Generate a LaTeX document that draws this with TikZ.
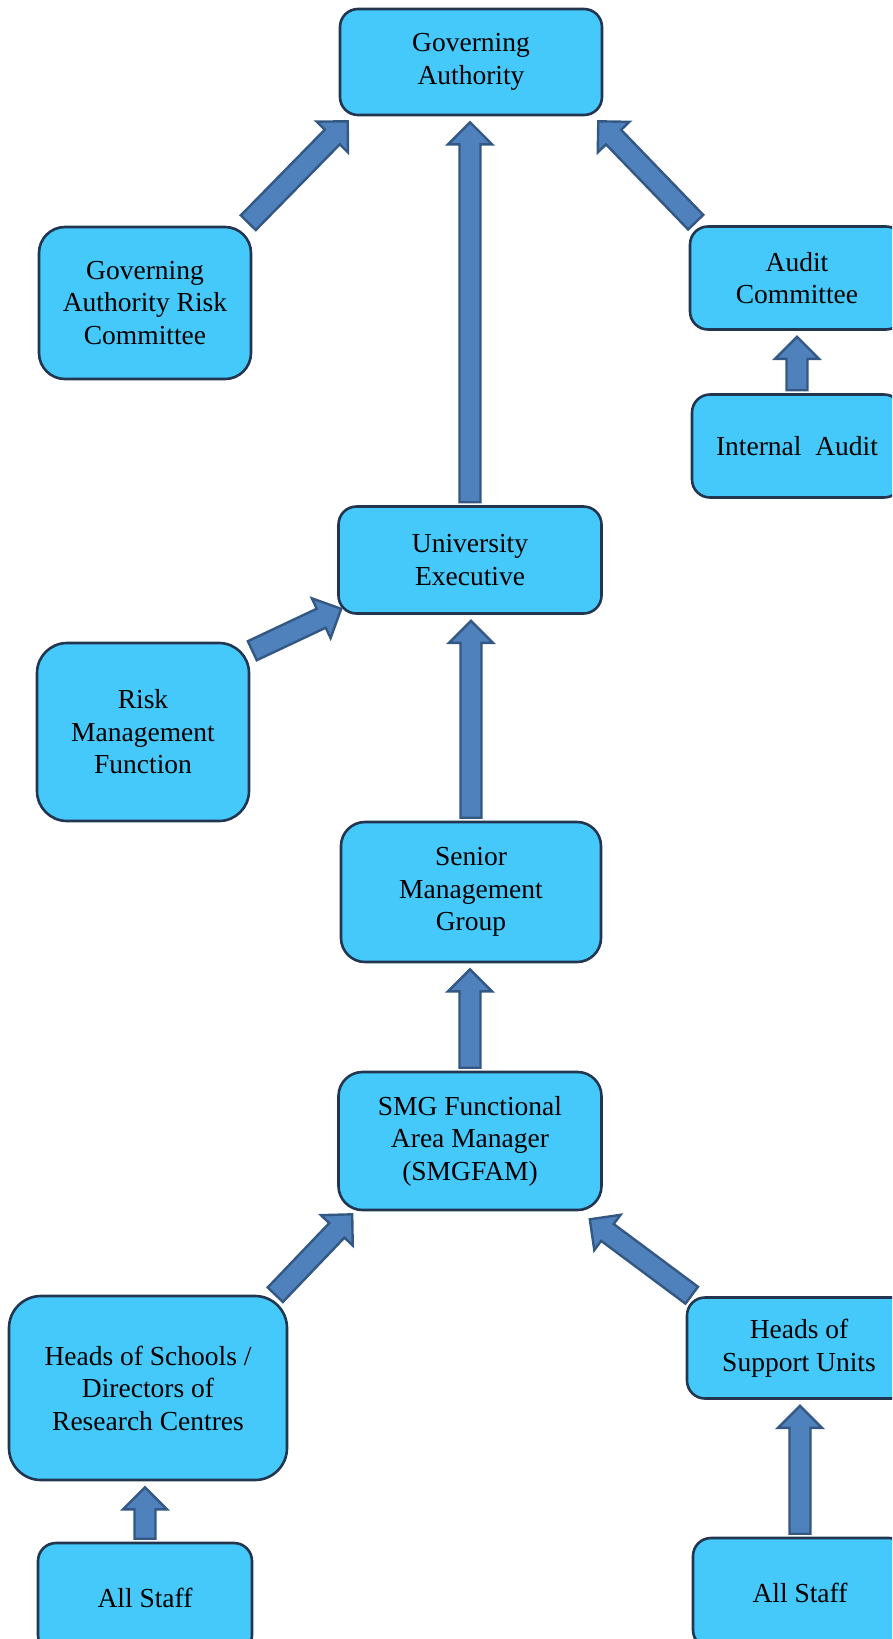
\documentclass[tikz,border=0pt]{standalone}
\usepackage{fontspec}
\setmainfont{Liberation Serif}
\usetikzlibrary{calc}

\definecolor{boxfill}{RGB}{69,200,250}
\definecolor{boxline}{RGB}{34,54,80}
\definecolor{arrowfill}{RGB}{79,129,189}
\definecolor{arrowline}{RGB}{52,88,132}

\begin{document}
\begin{tikzpicture}[x=1pt,y=-1pt]
\tikzstyle{box} = [rectangle, rounded corners=18pt, draw=boxline, line width=2.6pt, fill=boxfill, inner sep=0pt, align=center, font=\fontsize{27.5}{32.5}\selectfont]
\def\shafthw{10.5pt}
\def\headhw{22pt}
\def\headlen{22pt}
\tikzstyle{blockarrow} = [draw=arrowline, fill=arrowfill, line width=2.4pt, line join=miter,
  to path={let \p1=(\tikztostart), \p2=(\tikztotarget), \n1={atan2(\y2-\y1,\x2-\x1)}, \n2={veclen(\x2-\x1,\y2-\y1)} in
    ($(\p1)+(\n1+90:\shafthw)$) -- ($(\p1)+(\n1:{\n2-\headlen})+(\n1+90:\shafthw)$)
    -- ($(\p1)+(\n1:{\n2-\headlen})+(\n1+90:\headhw)$) -- (\p2)
    -- ($(\p1)+(\n1:{\n2-\headlen})+(\n1-90:\headhw)$) -- ($(\p1)+(\n1:{\n2-\headlen})+(\n1-90:\shafthw)$)
    -- ($(\p1)+(\n1-90:\shafthw)$) -- cycle}]

\clip (0,0) rectangle (892,1639);
\fill[white] (0,0) rectangle (892,1639);

%top
\node[box, minimum width=262pt, minimum height=106pt] (ga) at (471,62) {Governing\\Authority};
\node[box, minimum width=212pt, minimum height=152pt, rounded corners=26pt] (garc) at (145,303) {Governing\\Authority Risk\\Committee};
\node[box, minimum width=214pt, minimum height=103pt] (ac) at (797,278) {Audit\\Committee};
\node[box, minimum width=210pt, minimum height=103pt] (ia) at (797,446) {Internal~ Audit};

%executive
\node[box, minimum width=263pt, minimum height=107pt] (ue) at (470,560) {University\\Executive};
\node[box, minimum width=212pt, minimum height=178pt, rounded corners=30pt] (rmf) at (143,732) {Risk\\Management\\Function};
\node[box, minimum width=260pt, minimum height=140pt, rounded corners=24pt] (smg) at (471,892) {Senior\\Management\\Group};
\node[box, minimum width=263pt, minimum height=138pt, rounded corners=24pt] (smgfam) at (470,1141) {SMG Functional\\Area Manager\\(SMGFAM)};

%units and staff
\node[box, minimum width=278pt, minimum height=184pt, rounded corners=32pt] (hos) at (148,1388) {Heads of Schools /\\Directors of\\Research Centres};
\node[box, minimum width=224pt, minimum height=101pt] (hsu) at (799,1348) {Heads of\\Support Units};
\node[box, minimum width=214pt, minimum height=110pt] (staff_1) at (145,1598) {All Staff};
\node[box, minimum width=214pt, minimum height=110pt] (staff_2) at (800,1593) {All Staff};

%straight up
\foreach \from/\to in {ia/ac, ue/ga, smg/ue, smgfam/smg, staff_1/hos, staff_2/hsu}
	\draw[blockarrow] ($(\from.north)+(0,-3)$) to ($(\from.north |- \to.south)+(0,6)$);

%slanted
\draw[blockarrow] ($(garc.north east)+(-4,-3)$) to ($(ga.south west)+(9,5)$);
\draw[blockarrow] ($(ac.north west)+(7,-3)$) to ($(ga.south east)+(-5,5)$);
\draw[blockarrow] ($(rmf.north east)+(2,9)$) to ($(ue.south west)+(4,-6)$);
\draw[blockarrow] ($(hos.north east)+(-13,0)$) to ($(smgfam.south west)+(15,3)$);
\draw[blockarrow] ($(hsu.north west)+(6,-1)$) to ($(smgfam.south east)+(-13,8)$);
\end{tikzpicture}
\end{document}
